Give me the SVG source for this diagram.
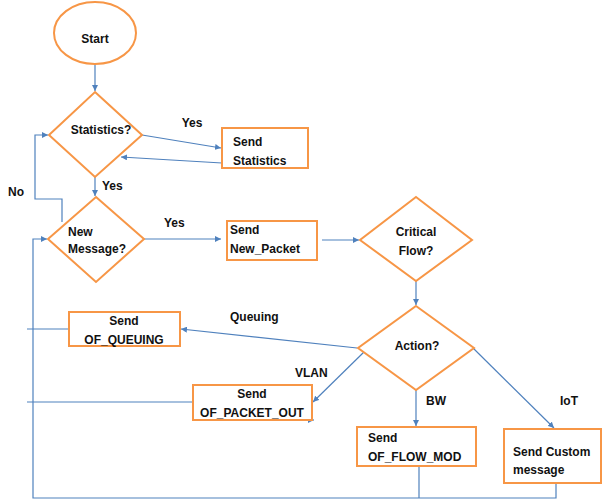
<svg xmlns="http://www.w3.org/2000/svg" width="602" height="500" viewBox="0 0 602 500">
<style>
.n{fill:#fff;stroke:#F79646;stroke-width:2}
.t{font-family:"Liberation Sans",Arial,sans-serif;font-weight:bold;font-size:12px;fill:#111}
.m{text-anchor:middle}
.c{fill:none;stroke:#4F81BD;stroke-width:1.2}
</style>
<defs>
<marker id="a" viewBox="0 0 10 10" refX="10" refY="5" markerWidth="6" markerHeight="6" orient="auto" markerUnits="userSpaceOnUse">
<path d="M0,0L10,5L0,10z" fill="#4F81BD"/>
</marker>
</defs>
<rect width="602" height="500" fill="#fff"/>
<g id="connectors">
<path class="c" d="M95,64V91" marker-end="url(#a)"/>
<path class="c" d="M142,135L221,148" marker-end="url(#a)"/>
<path class="c" d="M222,163L121,157" marker-end="url(#a)"/>
<path class="c" d="M95,177V196" marker-end="url(#a)"/>
<path class="c" d="M62,222V199H35V135H48" marker-end="url(#a)"/>
<path class="c" d="M144,239H221" marker-end="url(#a)"/>
<path class="c" d="M322,240H359" marker-end="url(#a)"/>
<path class="c" d="M416,281V305" marker-end="url(#a)"/>
<path class="c" d="M357,348L181,329" marker-end="url(#a)"/>
<path class="c" d="M365,351L313,402" marker-end="url(#a)"/>
<path class="c" d="M253,420H314" marker-end="url(#a)"/>
<path class="c" d="M416,390V426" marker-end="url(#a)"/>
<path class="c" d="M473,348L554,428" marker-end="url(#a)"/>
<path class="c" d="M69,329H27"/>
<path class="c" d="M193,402H27"/>
<path class="c" d="M419,466V498"/>
<path class="c" d="M556,483V498H33V239H47" marker-end="url(#a)"/>
</g>
<g id="start"><ellipse class="n" cx="95" cy="33" rx="41" ry="31"/><text class="t m" x="95" y="43">Start</text></g>
<g id="statistics"><path class="n" d="M95,92L142,135L95,177L49,135Z"/><text class="t m" x="101" y="134">Statistics?</text></g>
<g id="send-statistics"><rect class="n" x="222" y="128" width="86" height="40"/><text class="t" x="233" y="146">Send</text><text class="t" x="233" y="165">Statistics</text></g>
<g id="new-message"><path class="n" d="M96,197L144,239L96,282L48,239Z"/><text class="t" x="68" y="236">New</text><text class="t" x="68" y="253">Message?</text></g>
<g id="send-new-packet"><rect class="n" x="227" y="221" width="90" height="39"/><text class="t" x="230" y="234">Send</text><text class="t" x="230" y="253">New_Packet</text></g>
<g id="critical-flow"><path class="n" d="M416,197L472,240L416,281L360,240Z"/><text class="t m" x="416" y="236">Critical</text><text class="t m" x="416" y="255">Flow?</text></g>
<g id="action"><path class="n" d="M416,306L474,348L416,390L358,348Z"/><text class="t m" x="417" y="350">Action?</text></g>
<g id="send-of-queuing"><rect class="n" x="69" y="312" width="111" height="34"/><text class="t m" x="124" y="325">Send</text><text class="t m" x="124" y="344">OF_QUEUING</text></g>
<g id="send-of-packet-out"><rect class="n" x="193" y="385" width="119" height="35"/><text class="t m" x="252" y="398">Send</text><text class="t m" x="252" y="417">OF_PACKET_OUT</text></g>
<g id="send-of-flow-mod"><rect class="n" x="357" y="427" width="119" height="39"/><text class="t" x="368" y="442">Send</text><text class="t" x="368" y="461">OF_FLOW_MOD</text></g>
<g id="send-custom"><rect class="n" x="504" y="429" width="97" height="54"/><text class="t" x="513" y="456">Send Custom</text><text class="t" x="513" y="474">message</text></g>
<g id="labels">
<text class="t m" x="192" y="127">Yes</text>
<text class="t" x="102" y="190">Yes</text>
<text class="t" x="8" y="196">No</text>
<text class="t" x="164" y="227">Yes</text>
<text class="t" x="230" y="321">Queuing</text>
<text class="t" x="295" y="377">VLAN</text>
<text class="t" x="426" y="405">BW</text>
<text class="t" x="560" y="405">IoT</text>
</g>
</svg>
